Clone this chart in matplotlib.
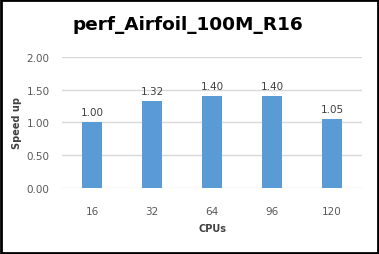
import matplotlib
matplotlib.use('Agg')
import matplotlib.pyplot as plt
from matplotlib.patches import Rectangle

cpus = ['16', '32', '64', '96', '120']
speedup = [1.00, 1.32, 1.40, 1.40, 1.05]
yticks = [0.0, 0.5, 1.0, 1.5, 2.0]

plt.rcParams['font.family'] = ['DejaVu Sans']

fig = plt.figure(figsize=(3.79, 2.55), dpi=100)
ax = fig.add_axes([0.1636, 0.259, 0.7916, 0.514])

x = range(len(cpus))
ax.bar(x, speedup, width=0.32, color='#5b9bd5', zorder=3)
for i, v in zip(x, speedup):
    ax.text(i, v + 0.08, f'{v:.2f}', ha='center', va='bottom', fontsize=7.5, color='#404040')

ax.set_xlim(-0.5, len(cpus) - 0.5)
ax.set_ylim(0, 2.0)
ax.set_yticks(yticks)
ax.set_yticklabels([f'{t:.2f}' for t in yticks])
ax.set_xticks(list(x))
ax.set_xticklabels(cpus)
ax.tick_params(length=0, labelsize=7.5, labelcolor='#595959', pad=9)
ax.tick_params(axis='x', pad=13)
ax.grid(axis='y', color='#d9d9d9', linewidth=1, zorder=0)
for s in ax.spines.values():
    s.set_visible(False)

ax.set_ylabel('Speed up', fontsize=7, fontweight='bold', color='#404040', labelpad=3)
ax.set_xlabel('CPUs', fontsize=7, fontweight='bold', color='#404040', labelpad=5)

fig.text(0.497, 0.90, 'perf_Airfoil_100M_R16', ha='center', va='center',
         fontsize=13.3, fontweight='bold', color='black')

fig.patches.append(Rectangle((0.003, 0.004), 0.994, 0.992, transform=fig.transFigure,
                             fill=False, edgecolor='black', linewidth=2))

fig.savefig('out.png', dpi=100)
